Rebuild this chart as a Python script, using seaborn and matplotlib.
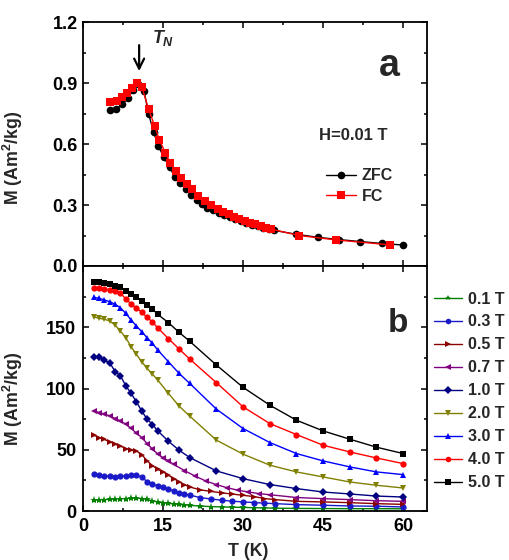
import numpy as np
import pandas as pd
import matplotlib
matplotlib.use("Agg")
import matplotlib.pyplot as plt
from matplotlib.ticker import MultipleLocator
import seaborn as sns

# ---- panel a: H = 0.01 T, ZFC / FC ----
t_zfc = [5, 6.2, 7.3, 8.4, 9.4, 10.3, 11.4, 12.3, 13.2, 14.1, 15.1, 16.2, 17.2, 18.2,
         19.3, 20.3, 21.3, 22.3, 23.2, 24.3, 25.4, 26.5, 27.5, 28.5, 29.6, 30.6, 31.7,
         32.7, 33.8, 34.8, 35.8, 40, 44, 48, 52, 56, 60]
m_zfc = [0.767, 0.772, 0.795, 0.825, 0.866, 0.895, 0.862, 0.746, 0.660, 0.590, 0.537,
         0.485, 0.440, 0.410, 0.379, 0.349, 0.325, 0.305, 0.287, 0.275, 0.262, 0.250,
         0.240, 0.230, 0.220, 0.211, 0.203, 0.195, 0.188, 0.181, 0.175, 0.156, 0.141,
         0.130, 0.120, 0.111, 0.103]
t_fc = [5, 6.3, 7.3, 8.2, 9.1, 10.1, 11.0, 12.3, 13.4, 14.3, 15.4, 16.3, 17.4, 18.3,
        19.4, 20.5, 21.6, 22.8, 24.0, 25.2, 26.3, 27.3, 28.3, 29.3, 30.3, 31.3, 32.3,
        33.3, 34.3, 35.3, 40.5, 47.5, 57.5]
m_fc = [0.808, 0.813, 0.830, 0.849, 0.874, 0.902, 0.882, 0.770, 0.689, 0.620, 0.557,
        0.508, 0.467, 0.431, 0.403, 0.378, 0.345, 0.320, 0.300, 0.280, 0.266, 0.254,
        0.243, 0.232, 0.222, 0.213, 0.205, 0.197, 0.189, 0.181, 0.150, 0.128, 0.104]

# ---- panel b: M(T) at several fields ----
t_hi = [2, 3, 4, 5, 6, 7, 8, 9, 10, 11, 12, 13, 14, 16, 18, 20, 25, 30, 35, 40, 45, 50, 55, 60]
m_50 = [187.1, 186.7, 185.9, 185.0, 184.0, 182.9, 179.6, 176.9, 174.4, 171.4, 168.2, 164.9,
        160.5, 153.7, 145.8, 138.5, 119.1, 100.9, 86.4, 74.1, 65.4, 58.6, 52.1, 46.9]
m_40 = [182.3, 182.0, 181.4, 180.6, 179.3, 177.9, 173.0, 169.0, 165.7, 162.2, 158.1, 154.3,
        149.4, 140.7, 132.2, 124.0, 104.7, 85.0, 71.4, 62.4, 53.7, 48.2, 43.3, 38.7]
m_30 = [174.4, 173.6, 172.2, 170.9, 168.7, 165.9, 161.3, 155.9, 151.0, 146.3, 141.4, 136.8,
        131.4, 121.8, 112.3, 104.1, 83.1, 67.3, 55.9, 46.9, 40.9, 36.0, 31.9, 29.7]
m_20 = [158.4, 157.3, 156.5, 155.1, 151.8, 146.9, 141.4, 134.1, 127.8, 121.8, 116.4, 111.7,
        106.8, 96.0, 85.6, 77.4, 57.8, 46.4, 37.4, 31.9, 27.8, 23.7, 21.0, 18.8]
m_10 = [125.4, 125.4, 122.9, 121.0, 113.7, 110.4, 102.2, 96.0, 89.1, 81.5, 75.0, 70.6,
        65.4, 56.9, 49.6, 43.6, 32.7, 26.4, 21.6, 18.3, 15.5, 13.9, 12.2, 11.4]

t_07 = [2, 3, 4, 5, 6, 7, 8, 9, 10, 11, 12, 13, 14, 15, 16, 17, 19, 21, 23, 25, 27, 29,
        31, 33, 35, 40, 45, 50, 55, 60]
m_07 = [81.8, 80.4, 79.1, 77.7, 75.5, 73.6, 70.9, 67.4, 63.5, 60.0, 55.0, 50.5, 46.5,
        43.5, 41.0, 38.0, 33.0, 28.5, 24.5, 21.5, 19.0, 17.0, 15.5, 14.2, 13.3, 11.0,
        10.1, 9.3, 8.4, 7.9]

t_lo = [2, 3, 4, 5, 6, 7, 8, 9, 10, 11, 12, 13, 14, 15, 16, 17, 18, 19, 20, 22, 24, 26,
        28, 30, 32, 34, 36, 40, 45, 50, 55, 60]
m_05 = [61.9, 60.0, 58.4, 56.5, 54.5, 52.9, 51.0, 49.6, 49.0, 46.0, 41.0, 37.0, 34.0,
        32.0, 29.2, 26.5, 23.8, 21.5, 19.6, 17.2, 16.0, 14.8, 13.8, 12.8, 11.8, 10.2,
        9.3, 7.9, 7.4, 6.8, 6.0, 5.4]
m_03 = [30.0, 29.2, 28.7, 28.4, 27.9, 28.4, 28.7, 29.2, 29.2, 27.5, 24.0, 22.0, 20.6,
        19.2, 17.8, 16.5, 15.0, 13.8, 13.0, 10.9, 9.8, 8.8, 8.0, 7.4, 6.9, 6.4, 6.0,
        5.2, 4.7, 4.1, 3.9, 3.3]
m_01 = [8.7, 9.3, 9.3, 9.5, 9.8, 10.1, 10.1, 10.4, 10.7, 10.1, 9.5, 8.2, 7.4, 6.8, 6.2,
        5.8, 5.4, 5.0, 4.6, 4.0, 3.6, 3.3, 3.1, 2.9, 2.7, 2.5, 2.3, 2.1, 2.0, 1.9, 1.9, 1.8]

field_labels = ["0.1 T", "0.3 T", "0.5 T", "0.7 T", "1.0 T", "2.0 T", "3.0 T", "4.0 T", "5.0 T"]
field_t = [t_lo, t_lo, t_lo, t_07, t_hi, t_hi, t_hi, t_hi, t_hi]
field_m = [m_01, m_03, m_05, m_07, m_10, m_20, m_30, m_40, m_50]
field_colors = ["#008000", "#1a1ac8", "#8b0000", "#800080", "#000080",
                "#808000", "#0000ff", "#ff0000", "#000000"]
field_markers = ["*", "o", ">", "<", "D", "v", "^", "o", "s"]
field_msize = [6, 4.5, 4.5, 4.5, 3.6, 4.5, 4.5, 4.5, 4.0]

sns.set_theme(style="ticks")
plt.rcParams.update({
    "font.family": ["Liberation Sans", "DejaVu Sans"],
    "font.weight": "bold",
    "axes.labelweight": "bold",
    "mathtext.fontset": "custom",
    "mathtext.rm": "Liberation Sans:bold",
    "mathtext.bf": "Liberation Sans:bold",
    "mathtext.it": "Liberation Sans:italic:bold",
    "axes.linewidth": 1.3,
    "xtick.direction": "in",
    "ytick.direction": "in",
    "xtick.top": True,
    "ytick.right": True,
    "xtick.major.size": 4,
    "ytick.major.size": 4,
    "xtick.minor.size": 2.5,
    "ytick.minor.size": 2.5,
    "xtick.major.width": 1.1,
    "ytick.major.width": 1.1,
    "xtick.minor.width": 1.1,
    "ytick.minor.width": 1.1,
    "xtick.color": "black",
    "ytick.color": "black",
    "axes.edgecolor": "black",
})

fig = plt.figure(figsize=(5.1, 5.6), dpi=100)
ax1 = fig.add_axes([0.163, 0.525, 0.6745, 0.4357])
ax2 = fig.add_axes([0.163, 0.0875, 0.6745, 0.4375])

# panel a
df_zfc = pd.DataFrame({"T": t_zfc, "M": m_zfc})
df_fc = pd.DataFrame({"T": t_fc, "M": m_fc})
sns.lineplot(data=df_zfc, x="T", y="M", ax=ax1, color="black", marker="o", markersize=5.5,
             markeredgewidth=0, linewidth=1.0, label="ZFC", estimator=None, sort=False)
sns.lineplot(data=df_fc, x="T", y="M", ax=ax1, color="#ff0000", marker="s", markersize=6,
             markeredgewidth=0, linewidth=1.0, label="FC", estimator=None, sort=False)

ax1.set_xlim(0, 64.5)
ax1.set_ylim(0, 1.2)
ax1.xaxis.set_major_locator(MultipleLocator(15))
ax1.xaxis.set_minor_locator(MultipleLocator(7.5))
ax1.yaxis.set_major_locator(MultipleLocator(0.3))
ax1.yaxis.set_minor_locator(MultipleLocator(0.15))
ax1.tick_params(axis="x", which="both", labelbottom=False)
ax1.tick_params(axis="y", labelsize=13, pad=4)
ax1.yaxis.set_major_formatter(matplotlib.ticker.FormatStrFormatter("%.1f"))
ax1.set_xlabel("")
ax1.set_ylabel("M (Am$^{2}$/kg)", fontsize=12.8)
ax1.yaxis.set_label_coords(-0.17, 0.445)

ax1.annotate("", xy=(10.5, 0.945), xytext=(10.5, 1.10),
             arrowprops=dict(arrowstyle="->,head_width=0.3,head_length=0.6", lw=1.6, color="black"))
ax1.text(13.0, 1.12, "$T_N$", fontsize=13, va="center", ha="left")
ax1.text(57.5, 0.985, "a", fontsize=27, fontweight="bold", ha="center", va="center")
ax1.text(50.7, 0.64, "H=0.01 T", fontsize=12, fontweight="bold", ha="center", va="center")
leg1 = ax1.legend(loc="upper left", bbox_to_anchor=(0.705, 0.40), frameon=False,
                  fontsize=11.5, handlelength=1.9, handletextpad=0.35, labelspacing=0.35,
                  borderpad=0, borderaxespad=0)
for h in leg1.get_lines():
    h.set_linewidth(1.0)

# panel b
for lbl, tt, mm, col, mk, ms in zip(field_labels, field_t, field_m, field_colors,
                                     field_markers, field_msize):
    d = pd.DataFrame({"T": tt, "M": mm})
    sns.lineplot(data=d, x="T", y="M", ax=ax2, color=col, marker=mk, markersize=ms,
                 markeredgewidth=0, linewidth=1.0, label=lbl, estimator=None, sort=False)

ax2.set_xlim(0, 64.5)
ax2.set_ylim(0, 200)
ax2.set_xticks([0, 15, 30, 45, 60])
ax2.xaxis.set_minor_locator(MultipleLocator(7.5))
ax2.set_yticks([0, 50, 100, 150])
ax2.yaxis.set_minor_locator(MultipleLocator(25))
ax2.tick_params(axis="both", labelsize=13, pad=5)
ax2.set_xlabel("T (K)", fontsize=12.8)
ax2.set_ylabel("M (Am$^{2}$/kg)", fontsize=12.8)
ax2.yaxis.set_label_coords(-0.17, 0.46)
ax2.xaxis.set_label_coords(0.48, -0.13)
ax2.text(61.0, 153, "b", fontsize=24, fontweight="bold", ha="right", va="center")
leg2 = ax2.legend(loc="center left", bbox_to_anchor=(1.02, 0.49), frameon=False,
                  fontsize=11.5, handlelength=1.75, handletextpad=0.35, labelspacing=0.5,
                  borderpad=0, borderaxespad=0)
for h in leg2.get_lines():
    h.set_linewidth(1.0)
    h.set_markersize(4)

fig.savefig("out.png", dpi=100)
